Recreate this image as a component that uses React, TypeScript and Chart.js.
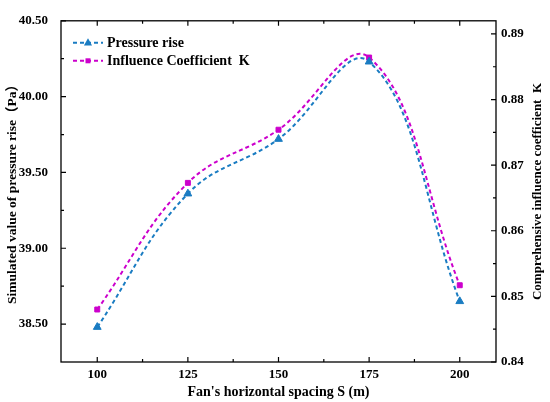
import React, { useEffect, useRef } from "react";
import { Chart, registerables } from "chart.js";

Chart.register(...registerables);

const spacing = [100, 125, 150, 175, 200];
const pressureRise = [38.48, 39.36, 39.72, 40.23, 38.65];
const influenceK = [0.848, 0.8673, 0.8754, 0.8864, 0.8517];

const xTicks = [100, 125, 150, 175, 200];
const xMinorTicks = [112.5, 137.5, 162.5, 187.5];
const leftTicks = [38.5, 39.0, 39.5, 40.0, 40.5];
const leftMinorTicks = [38.75, 39.25, 39.75, 40.25];
const rightTicks = [0.84, 0.85, 0.86, 0.87, 0.88, 0.89];
const rightMinorTicks = [0.845, 0.855, 0.865, 0.875, 0.885];

const seriesNames = ["Pressure rise", "Influence Coefficient  K"];
const xTitle = "Fan's horizontal spacing S (m)";
const leftTitle = "Simulated value of pressure rise（Pa）";
const rightTitle = "Comprehensive influence coefficient  K";

const BLUE = "#1a7cc2";
const MAGENTA = "#cc00cc";
const FAMILY = "'Liberation Serif', 'Times New Roman', 'Noto Sans CJK SC', serif";

function drawTriangle(ctx: CanvasRenderingContext2D, x: number, y: number, r: number) {
  ctx.beginPath();
  ctx.moveTo(x, y - r);
  ctx.lineTo(x + r * 0.9, y + r * 0.6);
  ctx.lineTo(x - r * 0.9, y + r * 0.6);
  ctx.closePath();
  ctx.fill();
}

function drawSquare(ctx: CanvasRenderingContext2D, x: number, y: number, s: number) {
  ctx.fillRect(x - s / 2, y - s / 2, s, s);
}

const decorPlugin = {
  id: "decor",
  afterDraw(chart: any) {
    const ctx: CanvasRenderingContext2D = chart.ctx;
    const { left, right, top, bottom } = chart.chartArea;
    const xs = chart.scales.x;
    const yl = chart.scales.y;
    const yr = chart.scales.y1;
    ctx.save();
    ctx.strokeStyle = "#000";
    ctx.lineWidth = 1.3;
    ctx.setLineDash([]);
    ctx.strokeRect(left, top, right - left, bottom - top);

    const major = 5;
    const minor = 3;
    ctx.lineWidth = 1.2;
    ctx.beginPath();
    const xt = (vals: number[], len: number) => {
      vals.forEach((v) => {
        const px = xs.getPixelForValue(v);
        ctx.moveTo(px, bottom);
        ctx.lineTo(px, bottom - len);
        ctx.moveTo(px, top);
        ctx.lineTo(px, top + len);
      });
    };
    xt(xTicks, major);
    xt(xMinorTicks, minor);
    const yt = (scale: any, vals: number[], len: number, fromLeft: boolean) => {
      vals.forEach((v) => {
        const py = scale.getPixelForValue(v);
        if (fromLeft) {
          ctx.moveTo(left, py);
          ctx.lineTo(left + len, py);
        } else {
          ctx.moveTo(right, py);
          ctx.lineTo(right - len, py);
        }
      });
    };
    yt(yl, leftTicks, major, true);
    yt(yl, leftMinorTicks, minor, true);
    yt(yr, rightTicks, major, false);
    yt(yr, rightMinorTicks, minor, false);
    ctx.stroke();

    // Legend
    const legendRows = [
      { name: seriesNames[0], color: BLUE, y: top + 22, marker: "tri" },
      { name: seriesNames[1], color: MAGENTA, y: top + 40, marker: "sq" },
    ];
    legendRows.forEach((row) => {
      ctx.strokeStyle = row.color;
      ctx.fillStyle = row.color;
      ctx.lineWidth = 2;
      ctx.setLineDash([4, 3]);
      ctx.beginPath();
      ctx.moveTo(left + 12, row.y);
      ctx.lineTo(left + 42, row.y);
      ctx.stroke();
      ctx.setLineDash([]);
      if (row.marker === "tri") drawTriangle(ctx, left + 27, row.y, 4.5);
      else drawSquare(ctx, left + 27, row.y, 5);
      ctx.fillStyle = "#000";
      ctx.font = `bold 14px ${FAMILY}`;
      ctx.textAlign = "left";
      ctx.textBaseline = "middle";
      ctx.fillText(row.name, left + 46, row.y + 0.5);
    });

    // Axis titles
    ctx.fillStyle = "#000";
    ctx.font = `bold 14px ${FAMILY}`;
    ctx.textAlign = "center";
    ctx.textBaseline = "middle";
    ctx.fillText(xTitle, (left + right) / 2, 392);

    ctx.font = `bold 13.5px ${FAMILY}`;
    ctx.save();
    ctx.translate(13, 191);
    ctx.rotate(-Math.PI / 2);
    ctx.fillText(leftTitle, 0, 0);
    ctx.restore();

    ctx.font = `bold 13px ${FAMILY}`;
    ctx.save();
    ctx.translate(538, 191.5);
    ctx.rotate(-Math.PI / 2);
    ctx.fillText(rightTitle, 0, 0);
    ctx.restore();

    ctx.restore();
  },
};

export default function App() {
  const canvasRef = useRef<HTMLCanvasElement | null>(null);

  useEffect(() => {
    document.body.style.margin = "0";
    const canvas = canvasRef.current;
    if (!canvas) return;
    const tickFont = { family: FAMILY, size: 13, weight: "bold" as const };
    const noGrid = { display: false, drawTicks: false, tickLength: 0 };
    const chart = new Chart(canvas, {
      type: "line",
      data: {
        datasets: [
          {
            label: seriesNames[0],
            data: spacing.map((x, i) => ({ x, y: pressureRise[i] })),
            yAxisID: "y",
            borderColor: BLUE,
            backgroundColor: BLUE,
            borderWidth: 2,
            borderDash: [4, 3],
            tension: 0.4,
            pointStyle: "triangle",
            pointRadius: 4.5,
            pointBorderWidth: 1,
            pointBackgroundColor: BLUE,
            pointBorderColor: BLUE,
            fill: false,
          },
          {
            label: seriesNames[1],
            data: spacing.map((x, i) => ({ x, y: influenceK[i] })),
            yAxisID: "y1",
            borderColor: MAGENTA,
            backgroundColor: MAGENTA,
            borderWidth: 2,
            borderDash: [4, 3],
            tension: 0.4,
            pointStyle: "rect",
            pointRadius: 3.5,
            pointBorderWidth: 1,
            pointBackgroundColor: MAGENTA,
            pointBorderColor: MAGENTA,
            fill: false,
          },
        ],
      },
      options: {
        animation: false,
        responsive: true,
        maintainAspectRatio: false,
        layout: { padding: { top: 11, left: 0, right: 0, bottom: 0 } },
        plugins: {
          legend: { display: false },
          tooltip: { enabled: false },
        },
        scales: {
          x: {
            type: "linear",
            position: "bottom",
            min: 90,
            max: 210,
            grid: noGrid,
            border: { display: false },
            afterBuildTicks: (scale: any) => {
              scale.ticks = xTicks.map((v) => ({ value: v }));
            },
            afterFit: (scale: any) => {
              scale.height = 40;
            },
            ticks: {
              font: tickFont,
              color: "#000",
              padding: 5,
              autoSkip: false,
              maxRotation: 0,
              callback: (v: any) => String(v),
            },
          },
          y: {
            type: "linear",
            position: "left",
            min: 38.25,
            max: 40.5,
            grid: noGrid,
            border: { display: false },
            afterBuildTicks: (scale: any) => {
              scale.ticks = leftTicks.map((v) => ({ value: v }));
            },
            afterFit: (scale: any) => {
              scale.width = 61;
            },
            ticks: {
              font: tickFont,
              color: "#000",
              padding: 13,
              callback: (v: any) => Number(v).toFixed(2),
            },
          },
          y1: {
            type: "linear",
            position: "right",
            min: 0.84,
            max: 0.892,
            grid: noGrid,
            border: { display: false },
            afterBuildTicks: (scale: any) => {
              scale.ticks = rightTicks.map((v) => ({ value: v }));
            },
            afterFit: (scale: any) => {
              scale.width = 54;
            },
            ticks: {
              font: tickFont,
              color: "#000",
              padding: 5,
              callback: (v: any) => Number(v).toFixed(2),
            },
          },
        },
      },
      plugins: [decorPlugin],
    });
    return () => chart.destroy();
  }, []);

  return (
    <div style={{ width: 550, height: 402, position: "relative", background: "#fff" }}>
      <canvas ref={canvasRef} />
    </div>
  );
}
